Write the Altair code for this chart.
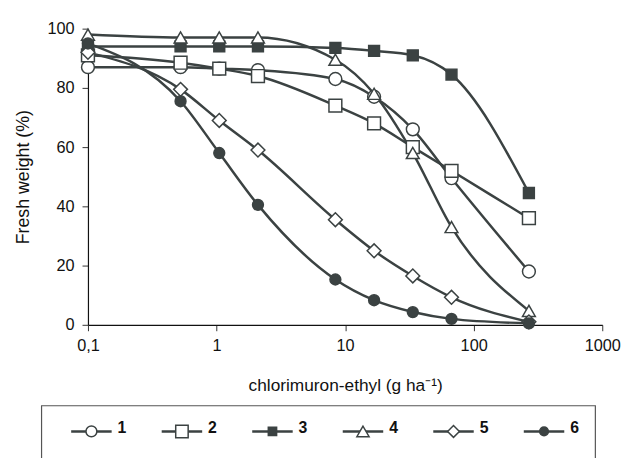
import altair as alt
import pandas as pd

# ---------------- data ----------------
doses = [0.1, 0.525, 1.05, 2.1, 8.4, 16.8, 33.6, 67.2, 268.8]
series_names = ["1", "2", "3", "4", "5", "6"]
s1 = [87, 87, 86.5, 86, 83, 77, 66, 49.5, 18]
s2 = [91, 88.5, 86.5, 84, 74, 68, 60, 52, 36]
s3 = [94, 94, 94, 94, 93.5, 92.5, 91, 84.5, 44.5]
s4 = [98, 97, 97, 97, 89.5, 78, 58, 33, 4.7]
s5 = [92, 79.5, 69, 59, 35.5, 25, 16.5, 9.3, 1]
s6 = [95, 75.5, 58, 40.5, 15.3, 8.3, 4.3, 2, 0.5]
x_ticks = [0.1, 1, 10, 100, 1000]
y_ticks = [0, 20, 40, 60, 80, 100]

all_series = [s1, s2, s3, s4, s5, s6]
rows = []
for name, vals in zip(series_names, all_series):
    for d, v in zip(doses, vals):
        rows.append({"dose": d, "value": v, "series": name})
df = pd.DataFrame(rows)
legend_df = pd.DataFrame({"series": series_names})
frame_df = pd.DataFrame({"series": series_names[:1]})

# ---------------- styles ----------------
C = "#3b4242"
FONT = "Liberation Sans"
shapes = ["circle", "square", "square", "triangle-up", "diamond", "circle"]
fills = ["white", "white", C, "white", "white", C]
sizes = [169, 169, 121, 169, 196, 121]
legend_sizes = [121, 159, 71, 154, 144, 77]

x_enc = alt.X(
    "dose:Q",
    scale=alt.Scale(type="log", domain=[0.1, 1000], nice=False),
    axis=alt.Axis(
        values=x_ticks,
        labelExpr="replace(format(datum.value, ''), '.', ',')",
        title="chlorimuron-ethyl (g ha⁻¹)",
        titleFontSize=17.5,
        grid=False,
        tickSize=6,
        labelPadding=7,
        labelFlush=False,
        titlePadding=23,
    ),
)
y_enc = alt.Y(
    "value:Q",
    scale=alt.Scale(domain=[0, 100], nice=False),
    axis=alt.Axis(
        values=y_ticks,
        title="Fresh weight (%)",
        titleFontSize=18,
        grid=False,
        tickSize=6,
        labelPadding=8,
        titlePadding=15,
    ),
)

lines = alt.Chart(df).mark_line(
    interpolate="monotone", color=C, strokeWidth=2.5
).encode(x=x_enc, y=y_enc, detail="series:N")

point_layers = []
for name, shp, fil, sz in zip(series_names, shapes, fills, sizes):
    point_layers.append(
        alt.Chart(df).transform_filter(f"datum.series == '{name}'").mark_point(
            shape=shp, fill=fil, size=sz, stroke=C, strokeWidth=1.5, opacity=1, filled=False
        ).encode(x=x_enc, y=y_enc)
    )

main = alt.layer(lines, *point_layers)

# ---------------- legend drawn as its own layer ----------------
lx = alt.X("series:N", scale=alt.Scale(type="point", domain=series_names, range=[3.5, 462], padding=0), axis=None)
LY = 408

frame = alt.Chart(frame_df).mark_rect(
    fill="transparent", stroke="#555555", strokeWidth=1.2
).encode(x=alt.value(-47), x2=alt.value(514), y=alt.value(382), y2=alt.value(450))

leg_lines = alt.Chart(legend_df).mark_rule(
    color=C, strokeWidth=2.5, xOffset=-20.5, x2Offset=20.5
).encode(x=lx, x2=alt.X2("series:N"), y=alt.value(LY))

leg_points = []
for name, shp, fil, sz in zip(series_names, shapes, fills, legend_sizes):
    leg_points.append(
        alt.Chart(legend_df).transform_filter(f"datum.series == '{name}'").mark_point(
            shape=shp, fill=fil, size=sz, stroke=C, strokeWidth=1.5, opacity=1, filled=False
        ).encode(x=lx, y=alt.value(LY))
    )

leg_text = alt.Chart(legend_df).mark_text(
    align="left", baseline="middle", dx=26.5, dy=-3,
    font=FONT, fontSize=16, fontWeight="bold", color="#111111"
).encode(x=lx, y=alt.value(LY), text="series:N")

legend = alt.layer(frame, leg_lines, *leg_points, leg_text)

chart = alt.layer(main, legend).resolve_scale(
    x="independent"
).properties(
    width=521,
    height=300,
    padding={"left": 81, "top": 18, "right": 21, "bottom": 132},
    autosize=alt.AutoSizeParams(type="none"),
).configure_view(stroke=None).configure_axis(
    labelFont=FONT,
    labelFontSize=16.5,
    labelColor="#111111",
    titleFont=FONT,
    titleFontWeight="normal",
    titleColor="#111111",
    domainColor="#111111",
    tickColor="#333333",
    domainWidth=1.2,
)

chart.save("out.html", embed_options={"renderer": "svg", "actions": False})
